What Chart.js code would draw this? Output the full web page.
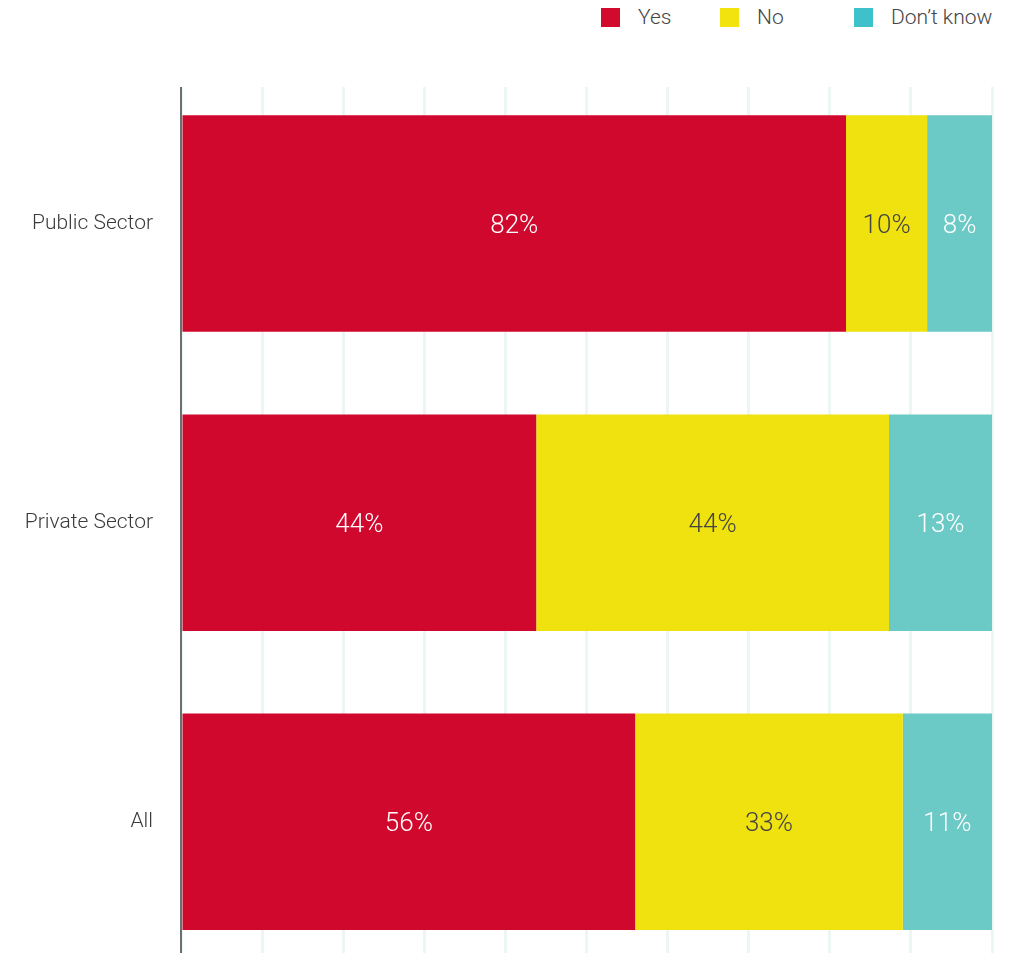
<!DOCTYPE html>
<html>
<head>
<meta charset="utf-8">
<script src="https://cdn.jsdelivr.net/npm/chart.js@4/dist/chart.umd.min.js"></script>
<style>
  html, body { margin: 0; padding: 0; background: #fff; overflow: hidden; }
  body { width: 1014px; height: 953px; position: relative; font-family: Roboto, "Open Sans", sans-serif; }
  #legend { position: absolute; top: 7px; left: 601px; display: flex; height: 20px; }
  .item { display: flex; align-items: center; color: #444; font-size: 21px; font-weight: 300; }
  .box { width: 19px; height: 19px; margin-right: 18px; }
  #wrap { position: absolute; top: 0; left: 0; width: 1014px; height: 1012px; }
</style>
</head>
<body>
<div id="legend"></div>
<div id="wrap"><canvas id="chart"></canvas></div>
<script>
// Dados do gráfico
const categories = ['Public Sector', 'Private Sector', 'All'];
const seriesNames = ['Yes', 'No', 'Don\u2019t know'];
const yesValues = [82, 43.8, 56];
const noValues = [10, 43.5, 33];
const dontKnowValues = [8, 12.7, 11];

const barColors = ['#d0082d', '#f0e20f', '#6bc9c6'];
const legendColors = ['#d20a2e', '#f2e30f', '#3fc1cb'];
const labelColors = ['#ffffff', '#444444', '#ffffff'];

// Legenda em HTML
const legendEl = document.getElementById('legend');
const itemWidths = [119, 134, 0];
seriesNames.forEach((name, i) => {
    const item = document.createElement('div');
    item.className = 'item';
    if (itemWidths[i]) item.style.width = itemWidths[i] + 'px';
    item.innerHTML = '<span class="box" style="background:' + legendColors[i] + '"></span>' + name;
    legendEl.appendChild(item);
});

// Plugin para escrever os valores dentro das barras
const barLabels = {
    id: 'barLabels',
    afterDatasetsDraw(chart) {
        const ctx = chart.ctx;
        ctx.save();
        ctx.font = '300 26px Roboto, "Open Sans", sans-serif';
        ctx.textAlign = 'center';
        ctx.textBaseline = 'middle';
        chart.data.datasets.forEach((ds, di) => {
            const meta = chart.getDatasetMeta(di);
            meta.data.forEach((bar, i) => {
                const cx = (bar.x + bar.base) / 2;
                ctx.fillStyle = labelColors[di];
                ctx.fillText(Math.round(ds.data[i]) + '%', cx, bar.y + 3);
            });
        });
        ctx.restore();
    }
};

// Esconde o topo da grade acima do início visível
const gridMask = {
    id: 'gridMask',
    afterDraw(chart) {
        const a = chart.chartArea;
        chart.ctx.save();
        chart.ctx.fillStyle = '#ffffff';
        chart.ctx.fillRect(a.left - 5, a.top - 2, a.right - a.left + 10, 15);
        chart.ctx.restore();
    }
};

const ctx = document.getElementById('chart').getContext('2d');
new Chart(ctx, {
    type: 'bar',
    data: {
        labels: categories,
        datasets: [
            { label: seriesNames[0], data: yesValues, backgroundColor: barColors[0] },
            { label: seriesNames[1], data: noValues, backgroundColor: barColors[1] },
            { label: seriesNames[2], data: dontKnowValues, backgroundColor: barColors[2] }
        ]
    },
    options: {
        indexAxis: 'y',
        responsive: true,
        maintainAspectRatio: false,
        animation: false,
        categoryPercentage: 1,
        barPercentage: 0.724,
        layout: { padding: { top: 74, bottom: 31, right: 22, left: 0 } },
        plugins: { legend: { display: false }, tooltip: { enabled: false } },
        scales: {
            x: {
                stacked: true,
                min: 0,
                max: 100,
                ticks: { display: false, stepSize: 10 },
                grid: { color: '#ecf6f3', lineWidth: 3, drawTicks: false },
                border: { display: false }
            },
            y: {
                stacked: true,
                afterFit: scale => { scale.width = 181; },
                grid: { display: false, drawTicks: false },
                border: { color: '#6b6f6d', width: 2 },
                ticks: {
                    padding: 28,
                    color: '#3a3a3a',
                    font: { family: 'Roboto, "Open Sans", sans-serif', size: 21, weight: 300 }
                }
            }
        }
    },
    plugins: [barLabels, gridMask]
});
</script>
</body>
</html>
